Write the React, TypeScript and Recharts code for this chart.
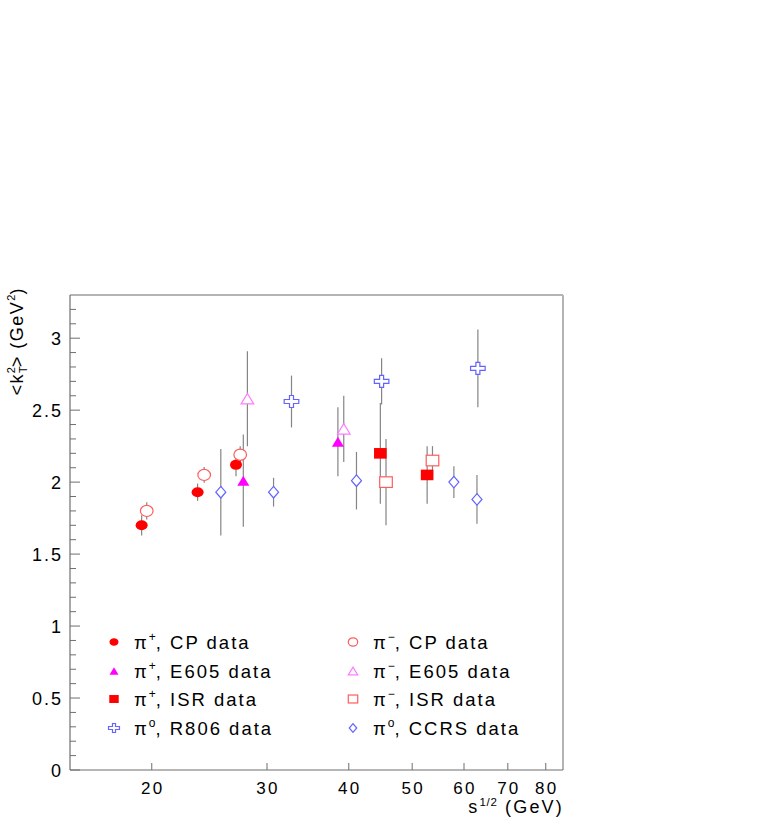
import React from 'react';
import {
  ScatterChart,
  Scatter,
  XAxis,
  YAxis,
  ErrorBar,
  ReferenceLine,
  Legend,
} from 'recharts';

// ─── Data ─────────────────────────────────────────────────
const cpPlusX = [19.3, 23.5, 26.9];
const cpPlusY = [1.7, 1.93, 2.12];
const cpPlusErr = [0.07, 0.06, 0.08];

const cpMinusX = [19.65, 24.05, 27.3];
const cpMinusY = [1.8, 2.05, 2.19];
const cpMinusErr = [0.06, 0.055, 0.06];

const e605PlusX = [27.6, 38.5];
const e605PlusY = [2.01, 2.28];
const e605PlusErr = [0.32, 0.24];

const e605MinusX = [28.0, 39.3];
const e605MinusY = [2.58, 2.37];
const e605MinusErr = [0.33, 0.23];

const isrPlusX = [44.7, 52.7];
const isrPlusY = [2.2, 2.05];
const isrPlusErr = [0.35, 0.2];

const isrMinusX = [45.6, 53.7];
const isrMinusY = [2.0, 2.15];
const isrMinusErr = [0.3, 0.1];

const r806X = [32.7, 44.9, 63.0];
const r806Y = [2.56, 2.7, 2.79];
const r806Err = [0.18, 0.16, 0.27];

const ccrsX = [25.5, 30.7, 41.1, 57.9, 62.8];
const ccrsY = [1.93, 1.93, 2.01, 2.0, 1.88];
const ccrsErr = [0.3, 0.1, 0.2, 0.11, 0.17];

const xTicks = [20, 30, 40, 50, 60, 70, 80];
const yMajorTicks = [0, 0.5, 1, 1.5, 2, 2.5, 3];
const yMinorTicks = [
  0.1, 0.2, 0.3, 0.4, 0.6, 0.7, 0.8, 0.9, 1.1, 1.2, 1.3, 1.4, 1.6, 1.7, 1.8,
  1.9, 2.1, 2.2, 2.3, 2.4, 2.6, 2.7, 2.8, 2.9, 3.1, 3.2,
];

const toRows = (xs: number[], ys: number[], es: number[]) =>
  xs.map((x, i) => ({ x, y: ys[i], err: es[i] }));

// ─── Colours / fonts ──────────────────────────────────────
const RED = '#ff0000';
const LIGHT_RED = '#ff5c5c';
const MAGENTA = '#ff00ff';
const PINK = '#ff7aff';
const BLUE = '#6363ff';
const AXIS = '#6e6e6e';
const FONT = '"Liberation Sans", Arial, sans-serif';

// ─── Marker shapes ────────────────────────────────────────
type MarkerProps = { cx: number; cy: number; s?: number };

const FilledCircle = ({ cx, cy, s = 1 }: MarkerProps) => (
  <ellipse cx={cx} cy={cy} rx={6 * s} ry={5 * s} fill={RED} />
);
const OpenCircle = ({ cx, cy, s = 1 }: MarkerProps) => (
  <ellipse cx={cx} cy={cy} rx={6.3 * s} ry={5.6 * s} fill="#fff" stroke={LIGHT_RED} strokeWidth={1.2} />
);
const triPoints = (cx: number, cy: number, w: number, h: number) =>
  `${cx - w},${cy + h} ${cx + w},${cy + h} ${cx},${cy - h}`;
const FilledTriangle = ({ cx, cy, s = 1 }: MarkerProps) => (
  <polygon points={triPoints(cx, cy, 6 * s, 5 * s)} fill={MAGENTA} />
);
const OpenTriangle = ({ cx, cy, s = 1 }: MarkerProps) => (
  <polygon points={triPoints(cx, cy, 6.3 * s, 5.2 * s)} fill="#fff" stroke={PINK} strokeWidth={1.2} />
);
const FilledSquare = ({ cx, cy, s = 1 }: MarkerProps) => (
  <rect x={cx - 6.3 * s} y={cy - 5.3 * s} width={12.6 * s} height={10.6 * s} fill={RED} />
);
const OpenSquare = ({ cx, cy, s = 1 }: MarkerProps) => (
  <rect x={cx - 6.3 * s} y={cy - 5.3 * s} width={12.6 * s} height={10.6 * s} fill="#fff" stroke={LIGHT_RED} strokeWidth={1.2} />
);
const Cross = ({ cx, cy, s = 1 }: MarkerProps) => {
  const a = 7.3 * s;
  const b = 6 * s;
  const t = 2 * s;
  const pts = [
    [-t, -b], [t, -b], [t, -t], [a, -t], [a, t], [t, t],
    [t, b], [-t, b], [-t, t], [-a, t], [-a, -t], [-t, -t],
  ]
    .map(([dx, dy]) => `${cx + dx},${cy + dy}`)
    .join(' ');
  return <polygon points={pts} fill="#fff" stroke={BLUE} strokeWidth={1.2} />;
};
const Diamond = ({ cx, cy, s = 1 }: MarkerProps) => {
  const w = 5 * s;
  const h = 5.8 * s;
  return (
    <polygon
      points={`${cx},${cy - h} ${cx + w},${cy} ${cx},${cy + h} ${cx - w},${cy}`}
      fill="#fff"
      stroke={BLUE}
      strokeWidth={1.2}
    />
  );
};

// ─── Series table ─────────────────────────────────────────
const series = [
  { name: 'cpPlus', rows: toRows(cpPlusX, cpPlusY, cpPlusErr), Shape: FilledCircle, sup: '+', label: 'CP data' },
  { name: 'e605Plus', rows: toRows(e605PlusX, e605PlusY, e605PlusErr), Shape: FilledTriangle, sup: '+', label: 'E605 data' },
  { name: 'isrPlus', rows: toRows(isrPlusX, isrPlusY, isrPlusErr), Shape: FilledSquare, sup: '+', label: 'ISR data' },
  { name: 'r806', rows: toRows(r806X, r806Y, r806Err), Shape: Cross, sup: 'o', label: 'R806 data' },
  { name: 'cpMinus', rows: toRows(cpMinusX, cpMinusY, cpMinusErr), Shape: OpenCircle, sup: '\u2212', label: 'CP data' },
  { name: 'e605Minus', rows: toRows(e605MinusX, e605MinusY, e605MinusErr), Shape: OpenTriangle, sup: '\u2212', label: 'E605 data' },
  { name: 'isrMinus', rows: toRows(isrMinusX, isrMinusY, isrMinusErr), Shape: OpenSquare, sup: '\u2212', label: 'ISR data' },
  { name: 'ccrs', rows: toRows(ccrsX, ccrsY, ccrsErr), Shape: Diamond, sup: 'o', label: 'CCRS data' },
];

// ─── Axis ticks ───────────────────────────────────────────
function XTick(props: any) {
  const { x, y, payload } = props;
  return (
    <g>
      <line x1={x} x2={x} y1={y} y2={y - 7} stroke={AXIS} strokeWidth={1} />
      <text x={x + 1} y={y + 24} textAnchor="middle" fontFamily={FONT} fontSize={17} letterSpacing={2.2} fill="#000">
        {payload.value}
      </text>
    </g>
  );
}

function YTick(props: any) {
  const { x, y, payload } = props;
  const major = yMajorTicks.includes(payload.value);
  return (
    <g>
      <line x1={x} x2={x + (major ? 10 : 6)} y1={y} y2={y} stroke={AXIS} strokeWidth={1} />
      {major && (
        <text x={x - 7} y={y + 6.5} textAnchor="end" fontFamily={FONT} fontSize={18} letterSpacing={2} fill="#000">
          {payload.value}
        </text>
      )}
    </g>
  );
}

// ─── Legend ───────────────────────────────────────────────
function LegendBox() {
  const rowY = [17, 46, 74, 103];
  return (
    <svg width={460} height={120} style={{ display: 'block' }}>
      {series.map((s, i) => {
        const col = Math.floor(i / 4);
        const row = i % 4;
        const mx = col === 0 ? 14 : 253;
        const tx = col === 0 ? 34 : 273;
        const cy = rowY[row];
        const { Shape } = s;
        return (
          <g key={s.name}>
            <Shape cx={mx} cy={cy} s={0.75} />
            <text x={tx} y={cy + 7} fontFamily={FONT} fontSize={18.5} letterSpacing={2} fill="#000">
              <tspan>π</tspan>
              <tspan dy={-8} fontSize={12} letterSpacing={0}>{s.sup}</tspan>
              <tspan dy={8}>, {s.label}</tspan>
            </text>
          </g>
        );
      })}
    </svg>
  );
}

export default function App() {
  return (
    <div style={{ position: 'absolute', left: 0, top: 0, width: 761, height: 830, background: '#fff' }}>
      <ScatterChart
        width={761}
        height={830}
        margin={{ top: 295, right: 198, bottom: 0, left: 0 }}
      >
        <XAxis
          type="number"
          dataKey="x"
          scale="log"
          domain={[15, 85]}
          allowDataOverflow
          ticks={xTicks}
          interval={0}
          tickSize={0}
          tickMargin={0}
          tickLine={false}
          tick={<XTick />}
          height={60}
          axisLine={{ stroke: AXIS, strokeWidth: 1.2 }}
        />
        <YAxis
          type="number"
          dataKey="y"
          domain={[0, 3.3]}
          allowDataOverflow
          ticks={[...yMajorTicks, ...yMinorTicks]}
          interval={0}
          tickSize={0}
          tickMargin={0}
          tickLine={false}
          tick={<YTick />}
          width={70}
          axisLine={{ stroke: AXIS, strokeWidth: 1.2 }}
        />
        <ReferenceLine y={3.3} stroke="#b4b4b4" strokeWidth={2} />
        <ReferenceLine x={85} stroke="#b4b4b4" strokeWidth={2} />
        {series.map((s) => (
          <Scatter
            key={s.name}
            name={s.name}
            data={s.rows}
            isAnimationActive={false}
            shape={(p: any) => <s.Shape cx={p.cx} cy={p.cy} />}
          >
            <ErrorBar dataKey="err" direction="y" width={0} stroke="#858585" strokeWidth={1.2} />
          </Scatter>
        ))}
        <Legend
          layout="horizontal"
          verticalAlign="middle"
          align="center"
          wrapperStyle={{ left: 100, top: 625, width: 460 }}
          content={() => <LegendBox />}
        />
      </ScatterChart>

      <svg
        width={761}
        height={830}
        style={{ position: 'absolute', left: 0, top: 0, pointerEvents: 'none' }}
      >
        <text x={564} y={813} textAnchor="end" fontFamily={FONT} fontSize={18} letterSpacing={2.2} fill="#000">
          <tspan>s</tspan>
          <tspan dy={-7} fontSize={11.5} letterSpacing={0.8}>1/2</tspan>
          <tspan dy={7}> (GeV)</tspan>
        </text>
        <text
          transform="translate(23,287) rotate(-90)"
          textAnchor="end"
          fontFamily={FONT}
          fontSize={18}
          letterSpacing={1.5}
          fill="#000"
        >
          <tspan>&lt;k</tspan>
          <tspan dy={4} fontSize={11} letterSpacing={0}>T</tspan>
          <tspan dx={-7} dy={-12} fontSize={11} letterSpacing={0}>2</tspan>
          <tspan dy={8}>&gt; (GeV</tspan>
          <tspan dy={-8} fontSize={11} letterSpacing={0}>2</tspan>
          <tspan dy={8}>)</tspan>
        </text>
      </svg>
    </div>
  );
}
